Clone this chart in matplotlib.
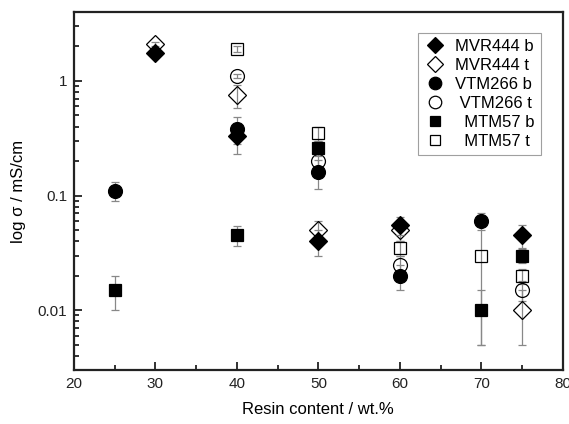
import matplotlib
matplotlib.use("Agg")
import matplotlib.pyplot as plt
from matplotlib.lines import Line2D
from matplotlib.ticker import FixedLocator, LogLocator, NullFormatter, MultipleLocator

plt.rcParams["font.family"] = ["Liberation Sans", "DejaVu Sans"]

# conductivity (mS/cm) vs resin content, bottom (b) and top (t) sides
mvr_b_x = [30, 40, 50, 60, 75]
mvr_b_y = [1.75, 0.33, 0.04, 0.055, 0.045]
mvr_b_err = [0.1, 0.1, 0.01, 0.01, 0.01]

mvr_t_x = [30, 40, 50, 60, 75]
mvr_t_y = [2.1, 0.75, 0.05, 0.05, 0.01]
mvr_t_err = [0.1, 0.17, 0.01, 0.01, 0.005]

vtm_b_x = [25, 40, 50, 60, 70]
vtm_b_y = [0.11, 0.38, 0.16, 0.02, 0.06]
vtm_b_err = [0.02, 0.1, 0.045, 0.005, 0.01]

vtm_t_x = [40, 50, 60, 75]
vtm_t_y = [1.1, 0.2, 0.025, 0.015]
vtm_t_err = [0.05, 0.03, 0.005, 0.003]

mtm_b_x = [25, 40, 50, 70, 75]
mtm_b_y = [0.015, 0.045, 0.26, 0.01, 0.03]
mtm_b_err = [0.005, 0.009, 0.04, 0.005, 0.004]

mtm_t_x = [40, 50, 60, 70, 75]
mtm_t_y = [1.9, 0.35, 0.035, 0.03, 0.02]
mtm_t_err = [0.1, 0.05, 0.005, 0.025, 0.003]

series = [
    (mvr_b_x, mvr_b_y, mvr_b_err, "D", True, 9, "MVR444 b"),
    (mvr_t_x, mvr_t_y, mvr_t_err, "D", False, 9, "MVR444 t"),
    (vtm_b_x, vtm_b_y, vtm_b_err, "o", True, 10, "VTM266 b"),
    (vtm_t_x, vtm_t_y, vtm_t_err, "o", False, 10, " VTM266 t"),
    (mtm_b_x, mtm_b_y, mtm_b_err, "s", True, 8.5, "  MTM57 b"),
    (mtm_t_x, mtm_t_y, mtm_t_err, "s", False, 8.5, "  MTM57 t"),
]

fig = plt.figure(figsize=(5.69, 4.24), dpi=100)
ax = fig.add_axes([0.130, 0.127, 0.859, 0.845])

handles = []
for x, y, e, m, filled, ms, lab in series:
    fc = "black" if filled else "none"
    ax.errorbar(x, y, yerr=e, fmt=m, ms=ms, mfc=fc, mec="black", mew=0.9,
                ecolor="#888888", elinewidth=0.9, capsize=3, capthick=0.9,
                zorder=4 if filled else 3)
    handles.append(Line2D([], [], ls="none", marker=m, ms=ms * 0.9, mfc=fc,
                          mec="black", mew=0.9, label=lab))

ax.set_yscale("log")
ax.set_xlim(20, 80)
ax.set_ylim(0.003, 4)

ax.xaxis.set_major_locator(MultipleLocator(10))
ax.xaxis.set_minor_locator(MultipleLocator(5))
ax.yaxis.set_major_locator(FixedLocator([0.01, 0.1, 1]))
ax.yaxis.set_minor_locator(LogLocator(base=10, subs=range(2, 10)))
ax.yaxis.set_minor_formatter(NullFormatter())
ax.set_yticklabels(["0.01", "0.1", "1"])

ax.tick_params(which="both", direction="in", top=False, right=False,
               labelsize=11, colors="#222222", width=1.3)
ax.tick_params(which="major", length=6, pad=5)
ax.tick_params(which="minor", length=3.5)
for sp in ax.spines.values():
    sp.set_linewidth(1.6)
    sp.set_color("#222222")

ax.set_xlabel("Resin content / wt.%", fontsize=12, labelpad=8)
ax.set_ylabel("log σ / mS/cm", fontsize=12, labelpad=8)

leg = ax.legend(handles=handles, loc="upper right", bbox_to_anchor=(0.972, 0.963),
                fontsize=12, frameon=True, fancybox=False, edgecolor="#888888",
                handletextpad=0.5, labelspacing=0.24, borderpad=0.35,
                handlelength=1.4)
leg.get_frame().set_linewidth(0.8)

fig.savefig("out.png", dpi=100)
